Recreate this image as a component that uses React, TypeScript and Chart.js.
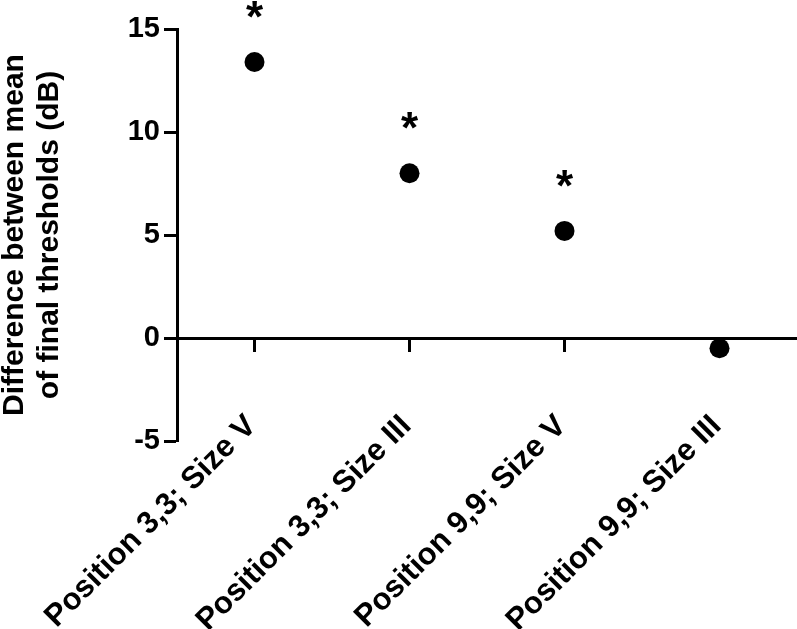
import React, { useEffect, useRef } from 'react';
import { Chart, registerables } from 'chart.js';

Chart.register(...registerables);

const categories = [
  'Position 3,3; Size V',
  'Position 3,3; Size III',
  'Position 9,9; Size V',
  'Position 9,9; Size III',
];
const differences = [13.4, 8.0, 5.2, -0.5];
const significant = [true, true, true, false];
const yTicks = [-5, 0, 5, 10, 15];
const yTitle = ['Difference between mean', 'of final thresholds (dB)'];

const FONT = "'Liberation Sans', Arial, Helvetica, sans-serif";

const asteriskPlugin = {
  id: 'asterisks',
  afterDatasetsDraw(chart: any) {
    const meta = chart.getDatasetMeta(0);
    const ctx = chart.ctx;
    ctx.save();
    ctx.font = `bold 44px ${FONT}`;
    ctx.fillStyle = '#000';
    ctx.textAlign = 'center';
    ctx.textBaseline = 'alphabetic';
    meta.data.forEach((pt: any, i: number) => {
      if (significant[i]) ctx.fillText('*', pt.x, pt.y - 30);
    });
    ctx.restore();
  },
};

export default function App() {
  const ref = useRef<HTMLCanvasElement>(null);
  useEffect(() => {
    if (!ref.current) return;
    const chart = new Chart(ref.current, {
      type: 'line',
      data: {
        labels: categories,
        datasets: [
          {
            data: differences,
            showLine: false,
            pointRadius: 10,
            pointHoverRadius: 10,
            pointBackgroundColor: '#000',
            pointBorderWidth: 0,
            borderColor: '#000',
            clip: false,
          },
        ],
      },
      options: {
        responsive: false,
        animation: false,
        layout: { autoPadding: false, padding: { top: 29, left: 0, right: 0, bottom: 188 } },
        plugins: { legend: { display: false }, tooltip: { enabled: false } },
        scales: {
          x: {
            type: 'category',
            position: { y: 0 } as any,
            offset: true,
            grid: {
              drawOnChartArea: false,
              drawTicks: true,
              tickLength: 12,
              tickWidth: 3,
              tickColor: '#000',
            },
            border: { display: true, color: '#000', width: 3 },
            ticks: {
              autoSkip: false,
              minRotation: 45,
              maxRotation: 45,
              padding: 58,
              labelOffset: -3,
              color: '#000',
              font: { family: FONT, size: 31, weight: 'bold' },
            },
            afterFit: (scale: any) => {
              scale.height = 0;
              scale.paddingLeft = 0;
              scale.paddingRight = 0;
            },
          },
          y: {
            type: 'linear',
            position: 'left',
            min: -5,
            max: 15,
            afterBuildTicks: (scale: any) => {
              scale.ticks = yTicks.map((v) => ({ value: v }));
            },
            grid: {
              drawOnChartArea: false,
              drawTicks: true,
              tickLength: 13,
              tickWidth: 3,
              tickColor: '#000',
            },
            border: { display: true, color: '#000', width: 3 },
            ticks: {
              padding: 4,
              color: '#000',
              font: { family: FONT, size: 29, weight: 'bold' },
            },
            title: {
              display: true,
              text: yTitle,
              color: '#000',
              font: { family: FONT, size: 30, weight: 'bold', lineHeight: 1.17 },
              padding: { top: -3, bottom: 0 },
            },
            afterFit: (scale: any) => {
              scale.width = 177;
            },
          },
        },
      },
      plugins: [asteriskPlugin],
    });
    return () => chart.destroy();
  }, []);
  return (
    <div style={{ position: 'absolute', left: 0, top: 0, width: 797, height: 629, background: '#fff' }}>
      <canvas ref={ref} width={797} height={629} style={{ display: 'block' }} />
    </div>
  );
}
